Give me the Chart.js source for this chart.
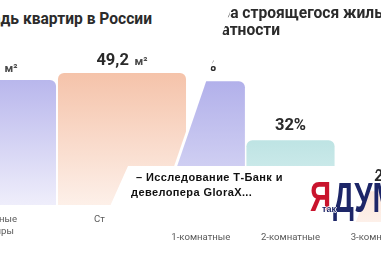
<!DOCTYPE html>
<html><head><meta charset="utf-8">
<script src="https://cdn.jsdelivr.net/npm/chart.js@4/dist/chart.umd.min.js"></script>
<style>
html,body{margin:0;padding:0;background:#fff;width:381px;height:260px;overflow:hidden;}
.wrap{position:absolute;left:0;top:0;width:381px;height:260px;overflow:hidden;}
#leftWrap{clip-path:polygon(0 0,231px 0,142px 260px,0 260px);}
#rightWrap{clip-path:polygon(234px 0,381px 0,381px 260px,145px 260px);}
canvas{position:absolute;top:0;}
#c1{left:-80px;}
#c2{left:140px;}
.title{position:absolute;font-family:Roboto,sans-serif;font-weight:700;font-size:15.6px;color:#2b2b2b;white-space:nowrap;line-height:17px;}
#card{position:absolute;left:0;top:0;width:381px;height:260px;background:#fff;
 clip-path:polygon(128px 166px,378px 166px,353px 229px,168px 229px,168px 260px,86px 260px);}
.news{position:absolute;font-family:"Liberation Sans",Arial,sans-serif;font-weight:700;font-size:11px;color:#111;white-space:nowrap;letter-spacing:0.4px;line-height:13px;}
.logo{position:absolute;font-family:"Liberation Sans",Arial,sans-serif;font-weight:700;white-space:nowrap;transform-origin:0 0;}
</style></head>
<body>
<div id="leftWrap" class="wrap">
  <div class="title" style="right:229px;top:11px;">Средняя площадь квартир в России</div>
  <canvas id="c1" width="270" height="260"></canvas>
</div>
<div id="rightWrap" class="wrap">
  <div class="title" style="left:162px;top:5px;">Структура строящегося жилья<br>по комнатности</div>
  <canvas id="c2" width="300" height="260"></canvas>
</div>
<div id="card"></div>
<div class="news" style="left:136px;top:171px;">– Исследование Т-Банк и</div>
<div class="news" style="left:131px;top:186px;">девелопера GloraX...</div>
<div class="logo" style="left:310px;top:176px;font-size:42px;line-height:42px;color:#c9142d;transform:scaleX(0.7);">Я</div>
<div class="logo" style="left:333px;top:177px;font-size:42px;line-height:42px;color:#1d2668;transform:scaleX(0.7);">ДУМ</div>
<div class="logo" style="left:322px;top:204px;font-size:9px;line-height:10px;color:#1d2668;text-shadow:1px 0 #fff,-1px 0 #fff,0 1px #fff,0 -1px #fff;">так</div>
<script>
// ---- data ----
const leftCategories = [["Вторичные","квартиры"],["Строящиеся","квартиры"]];
const leftValues = [46.6, 49.2];
const leftValueLabels = ["46,6","49,2"];
const leftUnit = "м²";

const rightCategories = ["1-комнатные","2-комнатные","3-комнатные"];
const rightValues = [55, 32, 12];
const rightValueLabels = ["55%","32%","12%"];

// ---- styling helpers ----
function gradFill(pairs){
  return (c)=>{
    const ch=c.chart, a=ch.chartArea;
    const p=pairs[c.dataIndex % pairs.length];
    if(!a) return p[0];
    const g=ch.ctx.createLinearGradient(0,a.top,0,a.bottom);
    g.addColorStop(0,p[0]); g.addColorStop(1,p[1]);
    return g;
  };
}
const labelPlugin = {
  id:'barLabels',
  afterDatasetsDraw(chart, args, opts){
    const ctx=chart.ctx, meta=chart.getDatasetMeta(0);
    const base=chart.scales.y.getPixelForValue(0);
    meta.data.forEach((bar,i)=>{
      ctx.save();
      ctx.textBaseline='alphabetic'; ctx.textAlign='left';
      const main=opts.values[i];
      ctx.font='700 16.5px Roboto';
      const w1=ctx.measureText(main).width;
      let w2=0;
      if(opts.unit){ctx.font='700 11.5px Roboto'; w2=ctx.measureText('  '+opts.unit).width;}
      const x0=bar.x-(w1+w2)/2, yb=bar.y-opts.gap;
      ctx.fillStyle='#2a2a2a'; ctx.font='700 16.5px Roboto'; ctx.fillText(main,x0,yb);
      if(opts.unit){ctx.font='700 11.5px Roboto'; ctx.fillStyle='#4a4a4a'; ctx.fillText('  '+opts.unit,x0+w1,yb);}
      ctx.font='400 9.6px Roboto'; ctx.fillStyle='#5a5a5a'; ctx.textAlign='center'; ctx.textBaseline='middle';
      const lab=chart.data.labels[i]; const lines=Array.isArray(lab)?lab:[lab];
      lines.forEach((l,k)=>ctx.fillText(l,bar.x,base+opts.catOffset+k*12));
      ctx.restore();
    });
  }
};
function makeChart(id, labels, values, valueLabels, unit, colors, pad, max, barPct, gap, catOffset){
  return new Chart(document.getElementById(id),{
    type:'bar',
    data:{labels:labels,datasets:[{data:values,backgroundColor:gradFill(colors),
      borderRadius:6,borderSkipped:'bottom',barPercentage:barPct,categoryPercentage:1}]},
    options:{responsive:false,animation:false,events:[],
      layout:{padding:pad},
      plugins:{legend:{display:false},tooltip:{enabled:false},
        barLabels:{values:valueLabels,unit:unit,gap:gap,catOffset:catOffset}},
      scales:{x:{display:false},y:{display:false,min:0,max:max}}},
    plugins:[labelPlugin]
  });
}
makeChart('c1', leftCategories, leftValues, leftValueLabels, leftUnit,
  [['#a9a7e8','#efeefb'],['#f3b99c','#fdf0e9']],
  {left:7,right:3,top:44,bottom:55}, 60, 0.985, 8, 15);
makeChart('c2', rightCategories, rightValues, rightValueLabels, '',
  [['#a5a3e7','#e2e2f7'],['rgb(147,208,208)','rgb(226,244,244)'],['#f3b99c','#fdf0e9']],
  {left:16,right:15,top:43,bottom:38}, 70, 0.983, 10, 16);
</script>
</body></html>
